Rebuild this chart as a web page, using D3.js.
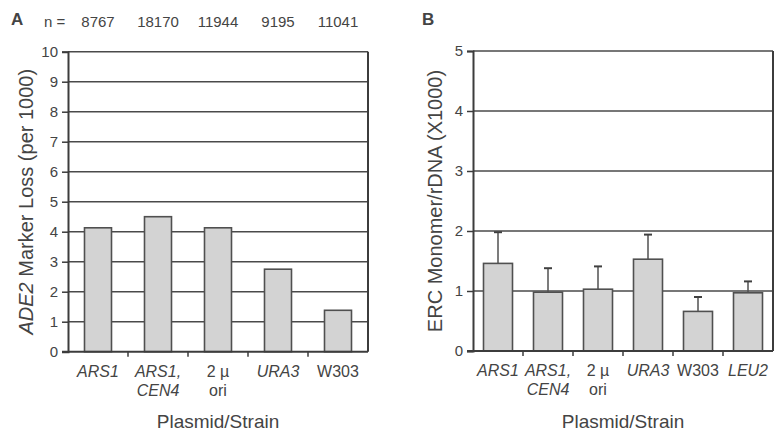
<!DOCTYPE html>
<html>
<head>
<meta charset="utf-8">
<script src="https://cdn.jsdelivr.net/npm/d3@7"></script>
<style>
  body { margin: 0; background: #fff; }
  text { font-family: "Liberation Sans", Arial, sans-serif; fill: #444; }
</style>
</head>
<body>
<div class="chart"></div>
<script>
// panel A data
var catsA = ["ARS1", "ARS1,|CEN4", "2 µ|ori", "URA3", "W303"];
var italicA = [true, true, false, true, false];
var nCounts = ["8767", "18170", "11944", "9195", "11041"];
var lossA = [4.13, 4.5, 4.13, 2.75, 1.38];
var ticksA = [0, 1, 2, 3, 4, 5, 6, 7, 8, 9, 10];

// panel B data
var catsB = ["ARS1", "ARS1,|CEN4", "2 µ|ori", "URA3", "W303", "LEU2"];
var italicB = [true, true, false, true, false, true];
var ercB = [1.46, 0.98, 1.03, 1.53, 0.66, 0.97];
var errB = [0.52, 0.40, 0.38, 0.41, 0.24, 0.19];
var ticksB = [0, 1, 2, 3, 4, 5];

var W = 775, H = 432;
var svg = d3.select(".chart").append("svg")
    .attr("width", W)
    .attr("height", H);

var lineCol = "#3c3c3c";

function drawPanel(p) {
    var g = svg.append("g");
    var y = d3.scaleLinear().domain([0, p.max]).range([p.bottom, p.top]);
    var x = d3.scaleBand().domain(p.cats).range([p.left, p.right])
        .paddingInner(p.pad).paddingOuter(p.pad / 2);

    // gridlines
    g.selectAll(".grid").data(p.ticks.filter(function(t){ return t > 0; }))
        .enter().append("line")
        .attr("x1", p.left).attr("x2", p.right)
        .attr("y1", function(d){ return y(d); })
        .attr("y2", function(d){ return y(d); })
        .attr("stroke", "#4a4a4a")
        .attr("stroke-width", 1.6);

    // right frame
    g.append("line")
        .attr("x1", p.right).attr("x2", p.right)
        .attr("y1", p.top).attr("y2", p.bottom)
        .attr("stroke", lineCol).attr("stroke-width", 2);

    // bars
    g.selectAll(".bar").data(p.values)
        .enter().append("rect")
        .attr("x", function(d, i){ return x(p.cats[i]); })
        .attr("y", function(d){ return y(d); })
        .attr("width", x.bandwidth())
        .attr("height", function(d){ return p.bottom - y(d); })
        .attr("fill", "#d3d3d3")
        .attr("stroke", "#505050")
        .attr("stroke-width", 1.6);

    // error bars
    if (p.errs) {
        p.errs.forEach(function(e, i){
            var cx = x(p.cats[i]) + x.bandwidth() / 2;
            g.append("line")
                .attr("x1", cx).attr("x2", cx)
                .attr("y1", y(p.values[i])).attr("y2", y(p.values[i] + e))
                .attr("stroke", "#505050").attr("stroke-width", 1.5);
            g.append("line")
                .attr("x1", cx - 4).attr("x2", cx + 4)
                .attr("y1", y(p.values[i] + e)).attr("y2", y(p.values[i] + e))
                .attr("stroke", "#404040").attr("stroke-width", 2);
        });
    }

    // y axis
    var yAxis = g.append("g")
        .attr("transform", "translate(" + p.left + ",0)")
        .call(d3.axisLeft(y).tickValues(p.ticks).tickFormat(d3.format("d"))
            .tickSize(6).tickPadding(4));
    yAxis.select(".domain").attr("stroke", lineCol).attr("stroke-width", 2);
    yAxis.selectAll(".tick line").attr("stroke", lineCol).attr("stroke-width", 1.5);
    yAxis.selectAll(".tick text")
        .style("font-family", "'Liberation Sans', Arial, sans-serif")
        .style("font-size", "15px")
        .attr("fill", "#555");

    // x axis line + boundary ticks
    g.append("line")
        .attr("x1", p.left - 6).attr("x2", p.right)
        .attr("y1", p.bottom).attr("y2", p.bottom)
        .attr("stroke", lineCol).attr("stroke-width", 2);
    d3.range(1, p.cats.length).forEach(function(i){
        var bx = x(p.cats[i]) - x.step() * p.pad / 2;
        g.append("line")
            .attr("x1", bx).attr("x2", bx)
            .attr("y1", p.bottom).attr("y2", p.bottom + 5)
            .attr("stroke", lineCol).attr("stroke-width", 1.5);
    });

    // category labels
    p.cats.forEach(function(c, i){
        var cx = x(c) + x.bandwidth() / 2;
        c.split("|").forEach(function(part, k){
            g.append("text")
                .attr("x", cx)
                .attr("y", p.bottom + 25 + k * 19)
                .attr("text-anchor", "middle")
                .style("font-size", "16px")
                .style("font-style", p.italic[i] ? "italic" : "normal")
                .attr("fill", "#555")
                .text(part);
        });
    });

    // x title
    g.append("text")
        .attr("x", (p.left + p.right) / 2)
        .attr("y", 428)
        .attr("text-anchor", "middle")
        .style("font-size", "19px")
        .text("Plasmid/Strain");

    // y title
    var yt = g.append("text")
        .attr("transform", "translate(" + p.yTitleX + "," + ((p.top + p.bottom) / 2) + ") rotate(-90)")
        .attr("text-anchor", "middle")
        .style("font-size", "20px");
    p.yTitle.forEach(function(seg){
        yt.append("tspan")
            .style("font-style", seg[1] ? "italic" : "normal")
            .text(seg[0]);
    });

    // panel letter
    g.append("text")
        .attr("x", p.letterX).attr("y", 25)
        .style("font-size", "17px")
        .style("font-weight", "bold")
        .attr("fill", "#333")
        .text(p.letter);

    return x;
}

var xA = drawPanel({
    cats: catsA, italic: italicA, values: lossA, ticks: ticksA, max: 10,
    left: 68, right: 368, top: 51.7, bottom: 351.7, pad: 0.55,
    yTitleX: 33, yTitle: [["ADE2", true], [" Marker Loss (per 1000)", false]],
    letter: "A", letterX: 11
});

drawPanel({
    cats: catsB, italic: italicB, values: ercB, errs: errB, ticks: ticksB, max: 5,
    left: 473, right: 773, top: 51, bottom: 351, pad: 0.42,
    yTitleX: 442, yTitle: [["ERC Monomer/rDNA (X1000)", false]],
    letter: "B", letterX: 422
});

// n = counts above panel A
svg.append("text")
    .attr("x", 44).attr("y", 27)
    .style("font-size", "15px")
    .attr("fill", "#555")
    .text("n =");
svg.selectAll(".ncount").data(nCounts)
    .enter().append("text")
    .attr("x", function(d, i){ return xA(catsA[i]) + xA.bandwidth() / 2; })
    .attr("y", 27)
    .attr("text-anchor", "middle")
    .style("font-size", "15px")
    .attr("fill", "#555")
    .text(function(d){ return d; });
</script>
</body>
</html>
